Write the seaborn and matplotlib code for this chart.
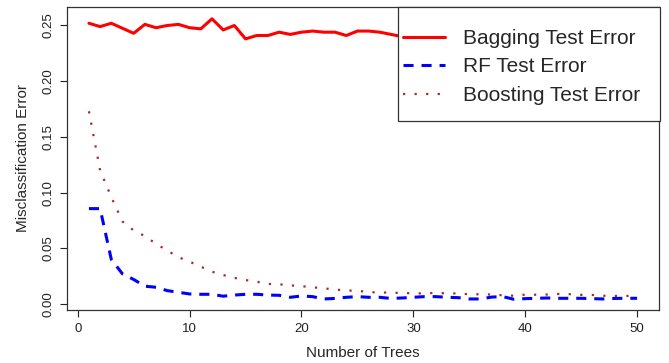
import numpy as np
import pandas as pd
import seaborn as sns
import matplotlib.pyplot as plt
from matplotlib.patches import Rectangle

# Valores
trees = list(range(1, 51))
bagging = [0.252, 0.249, 0.252, 0.2475, 0.243, 0.251, 0.248, 0.250, 0.251, 0.248,
           0.247, 0.256, 0.246, 0.250, 0.238, 0.241, 0.241, 0.244, 0.242, 0.244,
           0.245, 0.244, 0.244, 0.241, 0.245, 0.245, 0.244, 0.242, 0.240, 0.239,
           0.240, 0.238, 0.239, 0.240, 0.241, 0.239, 0.238, 0.240, 0.239, 0.238,
           0.240, 0.239, 0.238, 0.239, 0.240, 0.238, 0.239, 0.238, 0.239, 0.238]
rf = [0.0856, 0.0856, 0.040, 0.027, 0.022, 0.016, 0.015, 0.012, 0.0105, 0.009,
      0.0087, 0.0087, 0.007, 0.008, 0.0087, 0.0087, 0.008, 0.0078, 0.006, 0.0072,
      0.0066, 0.0045, 0.005, 0.006, 0.0066, 0.006, 0.006, 0.005, 0.0054, 0.006,
      0.0066, 0.0066, 0.006, 0.0057, 0.0045, 0.0045, 0.0062, 0.0066, 0.0042, 0.0048,
      0.0051, 0.0054, 0.0051, 0.0051, 0.0051, 0.0048, 0.0045, 0.005, 0.0051, 0.0051]
boosting = [0.173, 0.120, 0.096, 0.074, 0.066, 0.061, 0.054, 0.048, 0.042, 0.038,
            0.0335, 0.029, 0.026, 0.0235, 0.0215, 0.020, 0.018, 0.0177, 0.0167, 0.016,
            0.015, 0.014, 0.013, 0.012, 0.012, 0.0105, 0.0105, 0.010, 0.010, 0.0095,
            0.0095, 0.010, 0.0095, 0.0095, 0.0087, 0.0087, 0.0085, 0.0078, 0.0074, 0.0084,
            0.0083, 0.0085, 0.009, 0.0088, 0.0082, 0.0081, 0.0074, 0.0072, 0.0072, 0.0075]
labels = ["Bagging Test Error", "RF Test Error", "Boosting Test Error"]
xticks = [0, 10, 20, 30, 40, 50]
yticks = [0.00, 0.05, 0.10, 0.15, 0.20, 0.25]

sns.set_style("white")
plt.rcParams['font.family'] = ['Liberation Sans', 'DejaVu Sans']

fig = plt.figure(figsize=(6.69, 3.63), dpi=100)
ax = fig.add_axes([67/669, 1 - 310/363, (659 - 67)/669, (310 - 7)/363])

sns.lineplot(x=trees, y=bagging, ax=ax, color="#FF0000", lw=2.2, label=labels[0])
sns.lineplot(x=trees, y=rf, ax=ax, color="#0000FF", lw=2.2, label=labels[1],
             linestyle=(0, (3.3, 2.6)))
sns.lineplot(x=trees, y=boosting, ax=ax, color="#A52A2A", lw=1.6, label=labels[2],
             linestyle=(0, (1.0, 4.2)))

ax.set_xlim(-0.96, 51.96)
ax.set_ylim(-0.0054, 0.2666)
ax.set_xticks(xticks)
ax.set_yticks(yticks)
ax.set_yticklabels([f"{v:.2f}" for v in yticks], rotation=90, va="center")
ax.tick_params(axis="both", which="major", direction="out", length=5, width=0.8,
               colors="#222222", labelsize=9.5, bottom=True, left=True)
ax.tick_params(axis="x", pad=4)
ax.tick_params(axis="y", pad=4)
for s in ax.spines.values():
    s.set_color("#333333")
    s.set_linewidth(0.9)

ax.set_xlabel("Number of Trees", fontsize=11, labelpad=8)
ax.set_ylabel("Misclassification Error", fontsize=11, labelpad=9)

# caixa da legenda
ax.add_patch(Rectangle((398/669, 1 - 121/363), 262/669, 114/363, transform=fig.transFigure,
                       facecolor="white", edgecolor="#333333", lw=0.9, zorder=4, clip_on=False))
leg = ax.legend(loc="center left", bbox_to_anchor=(403/669, 1 - 67/363),
                bbox_transform=fig.transFigure, frameon=False, fontsize=15,
                borderpad=0, borderaxespad=0, handlelength=2.0, handletextpad=0.9,
                labelspacing=0.45)
leg.set_zorder(5)

fig.savefig("out.png", dpi=100)
